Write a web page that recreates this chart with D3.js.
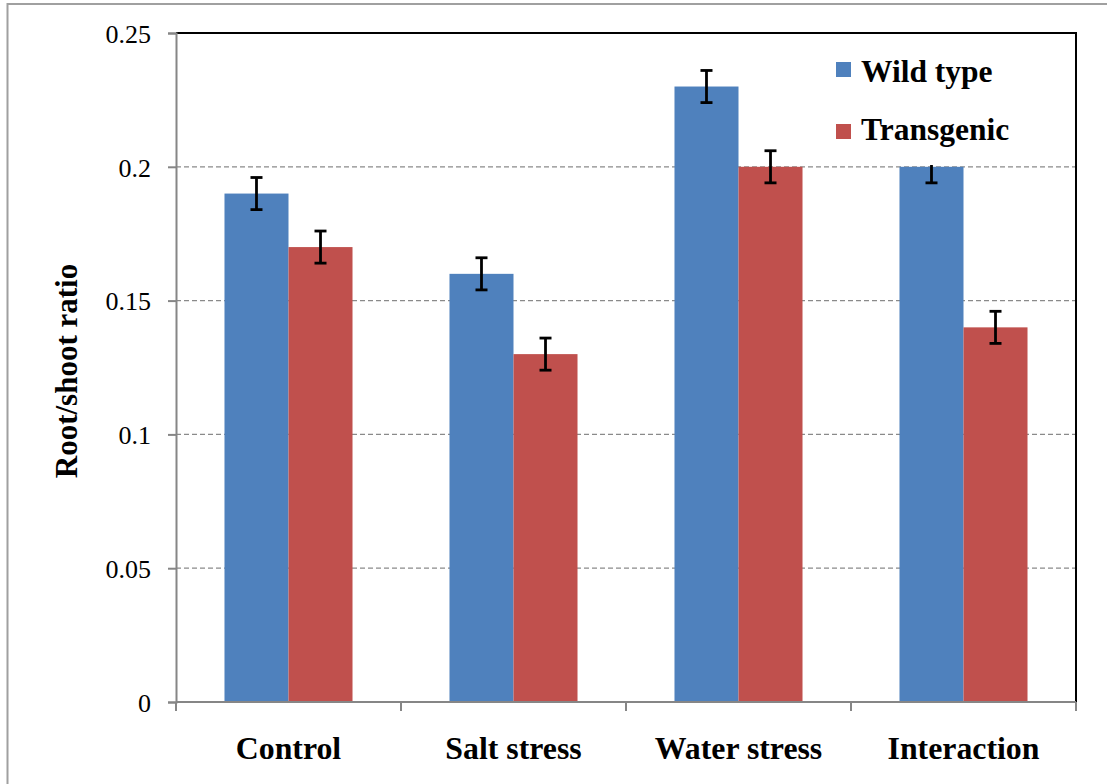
<!DOCTYPE html>
<html>
<head>
<meta charset="utf-8">
<script src="https://cdn.jsdelivr.net/npm/d3@7"></script>
<style>
  html, body { margin: 0; padding: 0; background: #fff; }
  svg { display: block; }
  text { font-family: "Liberation Serif", "Times New Roman", serif; }
</style>
</head>
<body>
<svg id="chart" width="1107" height="784"></svg>
<script>
const categories = ["Control", "Salt stress", "Water stress", "Interaction"];
const seriesNames = ["Wild type", "Transgenic"];
const wildType = [0.19, 0.16, 0.23, 0.20];
const transgenic = [0.17, 0.13, 0.20, 0.14];
const wildTypeErr = [0.006, 0.006, 0.006, 0.006];
const transgenicErr = [0.006, 0.006, 0.006, 0.006];
const yTicks = [0, 0.05, 0.1, 0.15, 0.2, 0.25];
const yTickLabels = ["0", "0.05", "0.1", "0.15", "0.2", "0.25"];
const colors = ["#4F81BD", "#C0504D"];

const svg = d3.select("#chart");
const margin = {left: 176, top: 33, right: 1076, bottom: 702};

// page frame
svg.append("rect").attr("x", 7.5).attr("y", 4).attr("width", 1200).attr("height", 900)
  .attr("fill", "none").attr("stroke", "#a0a0a0").attr("stroke-width", 2);

const x0 = d3.scaleBand().domain(categories).range([margin.left, margin.right])
  .paddingInner(0.431).paddingOuter(0.2155);
const x1 = d3.scaleBand().domain(seriesNames).range([0, x0.bandwidth()]).padding(0);
const y = d3.scaleLinear().domain([0, 0.25]).range([margin.bottom, margin.top]);

// gridlines
svg.append("g").selectAll("line").data(yTicks.filter(t => t > 0 && t < 0.25)).join("line")
  .attr("x1", margin.left).attr("x2", margin.right)
  .attr("y1", d => y(d)).attr("y2", d => y(d))
  .attr("stroke", "#8a8a8a").attr("stroke-width", 1.3).attr("stroke-dasharray", "5,3");

// bars
const data = categories.map((c, i) => ({
  cat: c,
  vals: [
    {s: seriesNames[0], v: wildType[i], e: wildTypeErr[i], col: colors[0]},
    {s: seriesNames[1], v: transgenic[i], e: transgenicErr[i], col: colors[1]}
  ]
}));

const groups = svg.append("g").selectAll("g").data(data).join("g")
  .attr("transform", d => `translate(${x0(d.cat)},0)`);
groups.selectAll("rect").data(d => d.vals).join("rect")
  .attr("x", d => x1(d.s)).attr("width", x1.bandwidth())
  .attr("y", d => y(d.v)).attr("height", d => y(0) - y(d.v))
  .attr("fill", d => d.col);

// error bars
const eb = groups.selectAll("g.err").data(d => d.vals).join("g").attr("class", "err");
const cx = d => x1(d.s) + x1.bandwidth() / 2;
eb.append("line")
  .attr("x1", cx).attr("x2", cx)
  .attr("y1", d => y(d.v + d.e)).attr("y2", d => y(d.v - d.e))
  .attr("stroke", "#000").attr("stroke-width", 2.8);
eb.append("line")
  .attr("x1", d => cx(d) - 6).attr("x2", d => cx(d) + 6)
  .attr("y1", d => y(d.v + d.e)).attr("y2", d => y(d.v + d.e))
  .attr("stroke", "#000").attr("stroke-width", 2.8);
eb.append("line")
  .attr("x1", d => cx(d) - 6).attr("x2", d => cx(d) + 6)
  .attr("y1", d => y(d.v - d.e)).attr("y2", d => y(d.v - d.e))
  .attr("stroke", "#000").attr("stroke-width", 2.8);

// top and right border
svg.append("path")
  .attr("d", `M${margin.left},${margin.top}H${margin.right}V${margin.bottom}`)
  .attr("fill", "none").attr("stroke", "#000").attr("stroke-width", 2);

// y axis
const yAxis = d3.axisLeft(y).tickValues(yTicks).tickFormat((d, i) => yTickLabels[i]).tickSize(8).tickPadding(17);
const gy = svg.append("g").attr("transform", `translate(${margin.left},0)`).call(yAxis);
gy.select(".domain").attr("stroke", "#868686").attr("stroke-width", 2);
gy.selectAll(".tick line").attr("stroke", "#868686").attr("stroke-width", 2);
gy.selectAll(".tick text").attr("font-family", "Liberation Serif, serif").attr("font-size", 26)
  .attr("fill", "#000").attr("dy", "0.36em");

// x axis (ticks at category boundaries)
const boundaries = d3.range(categories.length + 1).map(i => margin.left + i * x0.step());
svg.append("line").attr("x1", margin.left).attr("x2", margin.right)
  .attr("y1", margin.bottom).attr("y2", margin.bottom)
  .attr("stroke", "#868686").attr("stroke-width", 2);
svg.append("g").selectAll("line").data(boundaries).join("line")
  .attr("x1", d => d).attr("x2", d => d)
  .attr("y1", margin.bottom).attr("y2", margin.bottom + 9)
  .attr("stroke", "#868686").attr("stroke-width", 2);
svg.append("g").selectAll("text").data(categories).join("text")
  .attr("x", d => x0(d) + x0.bandwidth() / 2).attr("y", 759)
  .attr("text-anchor", "middle").attr("font-size", 31.8).attr("font-weight", "bold")
  .text(d => d);

// y label
svg.append("text").attr("transform", "translate(77,371) rotate(-90)")
  .attr("text-anchor", "middle").attr("font-size", 31).attr("font-weight", "bold")
  .text("Root/shoot ratio");

// legend
const leg = svg.append("g");
leg.append("rect").attr("x", 826).attr("y", 48).attr("width", 200).attr("height", 117).attr("fill", "#fff");
const legY = [62, 124];
const legBase = [82, 140];
seriesNames.forEach((s, i) => {
  leg.append("rect").attr("x", 836).attr("y", legY[i]).attr("width", 15).attr("height", 15).attr("fill", colors[i]);
  leg.append("text").attr("x", 861).attr("y", legBase[i]).attr("font-size", 31.5).attr("font-weight", "bold").text(s);
});
</script>
</body>
</html>
